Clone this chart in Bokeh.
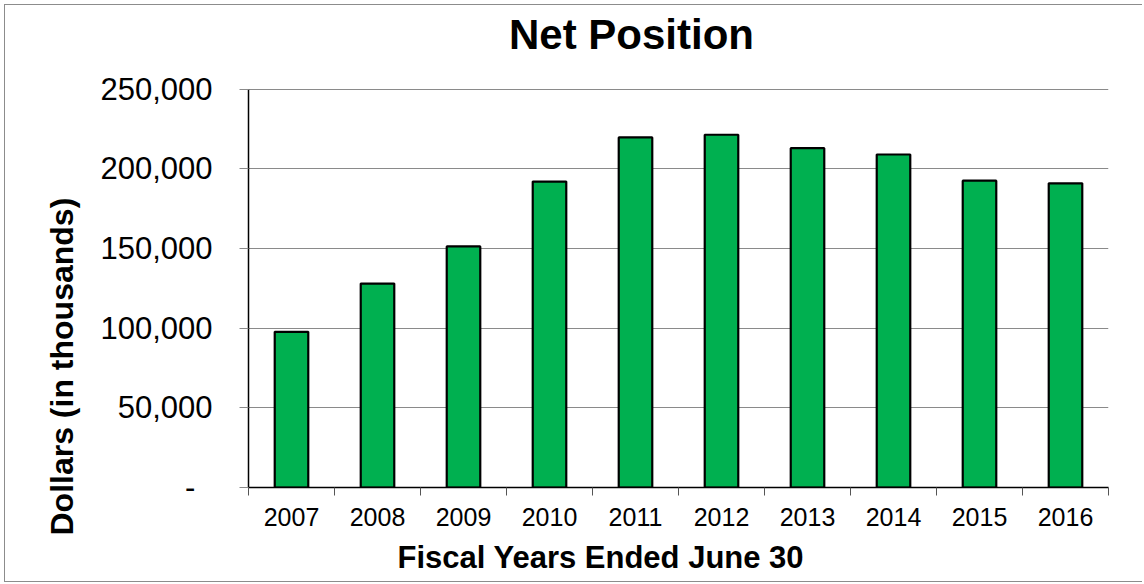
from bokeh.plotting import figure
from bokeh.models import Range1d, FixedTicker, Label, Title, ColumnDataSource
from bokeh.embed import file_html
from bokeh.resources import INLINE

years = ["2007", "2008", "2009", "2010", "2011", "2012", "2013", "2014", "2015", "2016"]
net_position = [97700, 128000, 151300, 192000, 219700, 221400, 213000, 209000, 192600, 190900]
y_ticks = [0, 50000, 100000, 150000, 200000, 250000]
y_tick_labels = ["-\u00a0\u00a0", "50,000", "100,000", "150,000", "200,000", "250,000"]
title_text = "Net Position"
x_title = "Fiscal Years Ended June 30"
y_title = "Dollars (in thousands)"

FONT = "Liberation Sans"

n = len(years)
centers = [i + 0.5 for i in range(n)]
edges = list(range(n + 1))

# layout (pixels): frame extends to the top so the title can sit inside it
TOP_BORDER = 10
AXIS_TOP = 89          # canvas y of the 250,000 gridline
FRAME_BOTTOM = 489
CANVAS_OFFSET = 5
frame_h = FRAME_BOTTOM - (CANVAS_OFFSET + TOP_BORDER)
axis_h = FRAME_BOTTOM - AXIS_TOP
y_max = y_ticks[-1] * frame_h / axis_h

p = figure(width=1138, height=578, x_range=Range1d(0, n),
           y_range=Range1d(0, y_max), output_backend="svg",
           toolbar_location=None,
           min_border_left=243, min_border_right=35, min_border_top=TOP_BORDER,
           min_border_bottom=94)
p.styles = {"border-left": "1px solid #8c8c8c", "border-top": "1px solid #8c8c8c",
            "border-bottom": "1px solid #8c8c8c",
            "margin-top": "4px", "margin-left": "4px"}
p.outline_line_color = None
p.background_fill_color = "white"
p.border_fill_color = "white"

src = ColumnDataSource(dict(x=centers, value=net_position, year=years))
p.vbar(x="x", top="value", width=0.39, source=src, fill_color="#00B050",
       line_color="black", line_width=2.2)

# grid
p.xgrid.grid_line_color = None
p.ygrid.grid_line_color = "#8a8a8a"
p.ygrid.grid_line_width = 1
p.ygrid.ticker = FixedTicker(ticks=y_ticks)

# y axis
ya = p.yaxis[0]
ya.bounds = (y_ticks[0], y_ticks[-1])
ya.ticker = FixedTicker(ticks=y_ticks)
ya.major_label_overrides = {t: l for t, l in zip(y_ticks, y_tick_labels)}
ya.major_label_text_font = FONT
ya.major_label_text_font_size = "31px"
ya.major_label_text_color = "black"
ya.major_label_standoff = 27
ya.major_tick_out = 9
ya.major_tick_in = 0
ya.major_tick_line_color = "#8a8a8a"
ya.minor_tick_line_color = None
ya.axis_line_color = "black"
ya.axis_line_width = 1.5

# x axis: labels at centres, tick marks at category boundaries
xa = p.xaxis[0]
xa.ticker = FixedTicker(ticks=centers, minor_ticks=edges)
xa.major_label_overrides = {c: y for c, y in zip(centers, years)}
xa.major_tick_line_color = None
xa.major_tick_out = 0
xa.major_tick_in = 0
xa.minor_tick_line_color = "#555555"
xa.minor_tick_out = 8
xa.minor_tick_in = 0
xa.axis_line_color = "black"
xa.axis_line_width = 1.5
xa.major_label_standoff = 12
xa.major_label_text_font = FONT
xa.major_label_text_font_size = "25px"
xa.major_label_text_color = "black"

# axis titles as side-panel titles (offset from the frame corner)
p.add_layout(Title(text=x_title, align="left", offset=149, standoff=18,
                   text_font=FONT, text_font_size="31px", text_font_style="bold",
                   text_color="black"), "below")
p.add_layout(Title(text=y_title, align="left", offset=-48, standoff=36,
                   text_font=FONT, text_font_size="32px", text_font_style="bold",
                   text_color="black"), "left")

# chart title inside the (extended) frame
p.add_layout(Label(x=383, y=FRAME_BOTTOM - 36, x_units="screen", y_units="screen",
                   text=title_text, text_font=FONT, text_font_size="42px",
                   text_font_style="bold", text_color="black",
                   text_align="center", text_baseline="middle"))

open("out.html", "w").write(file_html(p, INLINE))
